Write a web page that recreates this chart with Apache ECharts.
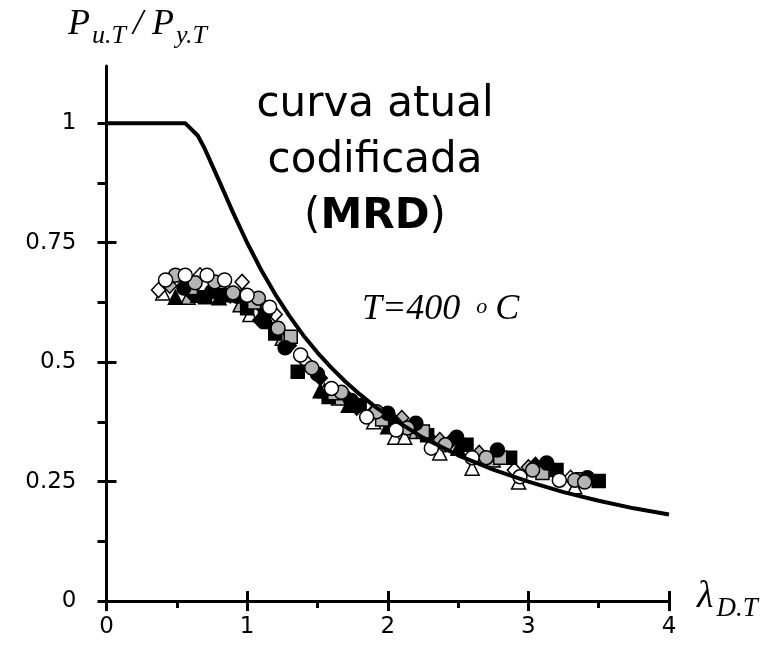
<!DOCTYPE html>
<html>
<head>
<meta charset="utf-8">
<script src="https://cdn.jsdelivr.net/npm/echarts@6/dist/echarts.min.js"></script>
<style>
html,body{margin:0;padding:0;background:#fff;}
#chart{width:769px;height:656px;}
</style>
</head>
<body>
<div id="chart"></div>
<script>
// ---- data ----
var xTickLabels = [0, 1, 2, 3, 4];
var yTickLabels = [0, 0.25, 0.5, 0.75, 1];
var yMinorTicks = [0, 0.125, 0.25, 0.375, 0.5, 0.625, 0.75, 0.875, 1];

// design curve (MRD)
var curveX = [0, 0.25, 0.561, 0.65, 0.7, 0.8, 0.9, 1.0, 1.1, 1.2, 1.3, 1.4, 1.5, 1.6, 1.7, 1.8, 1.9, 2.0, 2.25, 2.5, 2.75, 3.0, 3.25, 3.5, 3.75, 4.0];
var curveY = [1, 1, 1, 0.974, 0.946, 0.880, 0.813, 0.750, 0.693, 0.642, 0.597, 0.556, 0.520, 0.488, 0.459, 0.433, 0.409, 0.388, 0.342, 0.305, 0.275, 0.250, 0.228, 0.210, 0.194, 0.181];

// test / numerical results, by marker
var whiteCircles = [[0.42,0.672],[0.56,0.682],[0.715,0.682],[0.84,0.672],[1.0,0.64],[1.16,0.615],[1.38,0.515],[1.6,0.445],[1.85,0.385],[2.06,0.358],[2.31,0.32],[2.6,0.30],[2.94,0.26],[3.22,0.253]];
var grayCircles = [[0.49,0.682],[0.63,0.666],[0.77,0.668],[0.9,0.645],[1.08,0.634],[1.22,0.571],[1.46,0.488],[1.67,0.437],[1.92,0.396],[2.14,0.362],[2.41,0.327],[2.7,0.30],[3.03,0.274],[3.33,0.253],[3.4,0.249]];
var blackCircles = [[0.55,0.655],[0.75,0.648],[0.93,0.638],[1.13,0.603],[1.27,0.53],[1.5,0.475],[1.74,0.42],[2.0,0.393],[2.2,0.372],[2.49,0.343],[2.78,0.316],[3.13,0.289],[3.42,0.258]];
var blackSquares = [[0.7,0.636],[0.85,0.64],[1.0,0.613],[1.2,0.56],[1.36,0.48],[1.58,0.427],[1.8,0.41],[2.28,0.347],[2.56,0.327],[2.87,0.30],[3.2,0.274],[3.5,0.251]];
var graySquares = [[0.6,0.655],[1.05,0.625],[1.31,0.553],[1.62,0.435],[1.96,0.38],[2.25,0.355],[2.8,0.3],[3.1,0.268],[3.38,0.255]];
var whiteDiamonds = [[0.37,0.651],[0.665,0.682],[0.964,0.668],[1.2,0.6],[1.42,0.5],[1.88,0.39],[2.3,0.34],[2.9,0.274],[3.3,0.258]];
var grayDiamonds = [[0.45,0.66],[0.8,0.655],[1.12,0.61],[1.7,0.43],[2.1,0.383],[2.37,0.337],[2.65,0.31],[3.0,0.28]];
var blackDiamonds = [[0.6,0.645],[0.88,0.64],[1.09,0.588],[1.3,0.535],[1.52,0.467],[1.78,0.405],[2.05,0.375],[2.45,0.335],[3.05,0.285]];
var whiteTriangles = [[0.4,0.645],[0.75,0.64],[1.02,0.6],[1.55,0.44],[1.9,0.375],[2.05,0.343],[2.12,0.343],[2.37,0.31],[2.6,0.278],[2.93,0.249],[3.33,0.239]];
var grayTriangles = [[0.58,0.636],[0.95,0.62],[1.25,0.55],[1.65,0.425],[2.2,0.355],[2.75,0.295]];
var blackTriangles = [[0.49,0.636],[0.65,0.64],[0.8,0.635],[1.15,0.585],[1.52,0.44],[1.72,0.41],[2.0,0.365],[2.5,0.32]];

var GRAY = '#b4b4b4';
var LABEL_FONT = 'DejaVu Sans, Verdana, sans-serif';
var SERIF = 'Liberation Serif, Times New Roman, serif';
var SANS = 'DejaVu Sans, Verdana, sans-serif';

function sc(name, data, symbol, size, fill) {
  return {
    name: name, type: 'scatter', xAxisIndex: 0, yAxisIndex: 0,
    data: data, symbol: symbol, symbolSize: size,
    itemStyle: { color: fill, borderColor: '#000', borderWidth: 1.5, opacity: 1 },
    emphasis: { disabled: true }, z: 3
  };
}

var curveData = curveX.map(function (x, i) { return [x, curveY[i]]; });

var chart = echarts.init(document.getElementById('chart'), null, { renderer: 'canvas' });

var gridRect = { left: 106.5, right: 100, top: 66, bottom: 55 };

var option = {
  animation: false,
  backgroundColor: '#fff',
  grid: [
    Object.assign({}, gridRect),
    Object.assign({}, gridRect)
  ],
  xAxis: [
    {
      gridIndex: 0, type: 'value', min: 0, max: 4, interval: 1,
      axisLine: { show: true, onZero: false, lineStyle: { color: '#000', width: 3 } },
      axisTick: { show: true, inside: false, length: 10, customValues: xTickLabels, lineStyle: { color: '#000', width: 3 } },
      minorTick: { show: true, splitNumber: 2, length: 7, lineStyle: { color: '#000', width: 3 } },
      axisLabel: { show: true, customValues: xTickLabels, margin: 15, color: '#000', fontSize: 23, fontFamily: LABEL_FONT },
      splitLine: { show: false }
    },
    {
      gridIndex: 1, type: 'value', min: 0, max: 4, interval: 1,
      axisLine: { show: false, onZero: false },
      axisTick: { show: true, inside: true, length: 10, customValues: xTickLabels, lineStyle: { color: '#000', width: 3 } },
      axisLabel: { show: false },
      splitLine: { show: false }
    }
  ],
  yAxis: [
    {
      gridIndex: 0, type: 'value', min: 0, max: 1.12,
      axisLine: { show: true, onZero: false, lineStyle: { color: '#000', width: 3 } },
      axisTick: { show: true, inside: false, length: 9, customValues: yMinorTicks, lineStyle: { color: '#000', width: 3 } },
      axisLabel: { show: true, customValues: yTickLabels, margin: 30, color: '#000', fontSize: 23, fontFamily: LABEL_FONT,
        formatter: function (v) { return String(v); } },
      splitLine: { show: false }
    },
    {
      gridIndex: 1, type: 'value', min: 0, max: 1.12,
      axisLine: { show: false, onZero: false },
      axisTick: { show: true, inside: true, length: 10, customValues: yTickLabels, lineStyle: { color: '#000', width: 3 } },
      axisLabel: { show: false },
      splitLine: { show: false }
    }
  ],
  series: [
    sc('wt', whiteTriangles, 'triangle', 14, '#fff'),
    sc('gt', grayTriangles, 'triangle', 14, GRAY),
    sc('bt', blackTriangles, 'triangle', 14, '#000'),
    sc('wd', whiteDiamonds, 'diamond', [14, 15], '#fff'),
    sc('gd', grayDiamonds, 'diamond', [14, 15], GRAY),
    sc('bd', blackDiamonds, 'diamond', [14, 15], '#000'),
    sc('bs', blackSquares, 'rect', 13, '#000'),
    sc('gs', graySquares, 'rect', 13, GRAY),
    sc('bc', blackCircles, 'circle', 14, '#000'),
    sc('gc', grayCircles, 'circle', 14, GRAY),
    sc('wc', whiteCircles, 'circle', 14, '#fff'),
    {
      name: 'MRD', type: 'line', xAxisIndex: 0, yAxisIndex: 0,
      data: curveData, showSymbol: false, symbol: 'none', smooth: false,
      lineStyle: { color: '#000', width: 4, join: 'round' },
      emphasis: { disabled: true }, z: 4
    }
  ],
  graphic: [
    {
      type: 'text', x: 68, y: 7,
      style: {
        text: '{p|P}{s|u.T}{sl|/}{p2|P}{s|y.T}',
        align: 'left', verticalAlign: 'top', fill: '#000',
        rich: {
          p: { fontSize: 36, fontStyle: 'italic', fontFamily: SERIF, verticalAlign: 'top', padding: [0, 2, 0, 0], fill: '#000' },
          p2: { fontSize: 36, fontStyle: 'italic', fontFamily: SERIF, verticalAlign: 'top', padding: [0, 2, 0, 0], fill: '#000' },
          sl: { fontSize: 36, fontStyle: 'italic', fontFamily: SERIF, verticalAlign: 'top', padding: [0, 9, 0, 5], fill: '#000' },
          s: { fontSize: 26, fontStyle: 'italic', fontFamily: SERIF, verticalAlign: 'top', padding: [16, 2, 0, 0], fill: '#000' }
        }
      }
    },
    {
      type: 'text', x: 697, y: 578,
      style: {
        text: '{p|λ}{s|D.T}',
        align: 'left', verticalAlign: 'top', fill: '#000',
        rich: {
          p: { fontSize: 38, fontStyle: 'italic', fontFamily: SERIF, verticalAlign: 'top', padding: [0, 3, 0, 0], fill: '#000' },
          s: { fontSize: 27, fontStyle: 'italic', fontFamily: SERIF, verticalAlign: 'top', padding: [17, 0, 0, 0], fill: '#000' }
        }
      }
    },
    {
      type: 'text', x: 375, y: 77,
      style: {
        text: 'curva atual\ncodificada\n({b|MRD})',
        align: 'center', verticalAlign: 'top', fill: '#000',
        fontSize: 42, fontFamily: SANS, lineHeight: 56,
        rich: {
          b: { fontSize: 42, fontWeight: 'bold', fontFamily: SANS, lineHeight: 56, fill: '#000' }
        }
      }
    },
    {
      type: 'text', x: 362, y: 292,
      style: {
        text: '{t|T=400}{o|o}{t|C}',
        align: 'left', verticalAlign: 'top', fill: '#000',
        rich: {
          t: { fontSize: 36, fontStyle: 'italic', fontFamily: SERIF, verticalAlign: 'top', fill: '#000' },
          o: { fontSize: 22, fontStyle: 'italic', fontFamily: SERIF, verticalAlign: 'top', padding: [4, 8, 0, 16], fill: '#000' }
        }
      }
    }
  ]
};

chart.setOption(option);
</script>
</body>
</html>
